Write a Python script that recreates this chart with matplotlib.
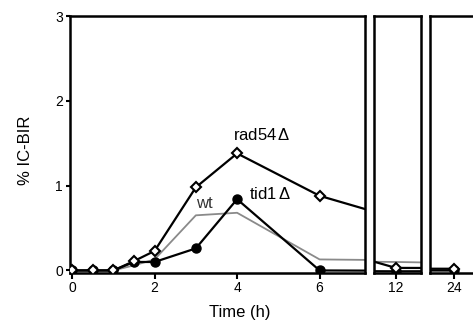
import matplotlib
matplotlib.use('Agg')
import matplotlib.pyplot as plt

plt.rcParams['font.family'] = ['Liberation Sans', 'DejaVu Sans']
plt.rcParams['mathtext.fontset'] = 'custom'
plt.rcParams['mathtext.rm'] = 'Liberation Sans'
plt.rcParams['mathtext.it'] = 'Liberation Sans:italic'

# time points (h)
time = [0, 0.5, 1, 1.5, 2, 3, 4, 6, 12, 24]
rad54 = [0, 0, 0, 0.11, 0.23, 0.98, 1.38, 0.88, 0.03, 0.02]
tid1 = [0, 0, 0, 0.1, 0.1, 0.26, 0.84, 0.0, -0.01, 0.0]
wt = [0, 0, 0, 0.06, 0.13, 0.65, 0.68, 0.13, 0.1, 0.0]

panels = [
    # (left px, right px, xlim, xticks)
    (70, 365, (-0.05, 7.1), [0, 2, 4, 6]),
    (374, 421, (11.48, 12.6), [12]),
    (430, 490, (23.44, 24.84), [24]),
]

W, H = 473, 332
fig = plt.figure(figsize=(W / 100, H / 100), dpi=100)
top_px, bot_px = 16, 273

axes = []
for left, right, xl, xt in panels:
    ax = fig.add_axes([left / W, 1 - bot_px / H, (right - left) / W, (bot_px - top_px) / H])
    ax.plot(time, wt, color='#8a8a8a', lw=1.3, zorder=2)
    ax.plot(time, tid1, color='black', lw=1.6, marker='o', ms=6.5,
            mfc='black', mec='black', zorder=3)
    ax.plot(time, rad54, color='black', lw=1.6, marker='D', ms=5.5,
            mfc='white', mec='black', mew=1.5, zorder=4)
    ax.set_xlim(*xl)
    ax.set_ylim(-0.03, 3.0)
    ax.set_xticks(xt)
    ax.set_xticklabels([str(t) for t in xt])
    for s in ax.spines.values():
        s.set_linewidth(1.8)
    ax.tick_params(axis='x', direction='out', length=4, width=1.5, labelsize=10, pad=2)
    ax.tick_params(axis='y', direction='out', length=3, width=1.5, labelsize=10, pad=2)
    if axes:
        ax.set_yticks([])
    else:
        ax.set_yticks([0, 1, 2, 3])
    axes.append(ax)

ax0 = axes[0]
ax0.text(3.9, 1.6, r'rad54$\,\mathit{\Delta}$', fontsize=12, ha='left', va='center')
ax0.text(4.3, 0.9, r'tid1$\,\mathit{\Delta}$', fontsize=12, ha='left', va='center')
ax0.text(3.0, 0.79, 'wt', fontsize=12, ha='left', va='center', color='#333333')

fig.text(25 / W, 1 - 150 / H, '% IC-BIR', rotation=90, fontsize=12,
         ha='center', va='center')
fig.text(240 / W, 1 - 313 / H, 'Time (h)', fontsize=12, ha='center', va='center')

fig.savefig('out.png', dpi=100)
